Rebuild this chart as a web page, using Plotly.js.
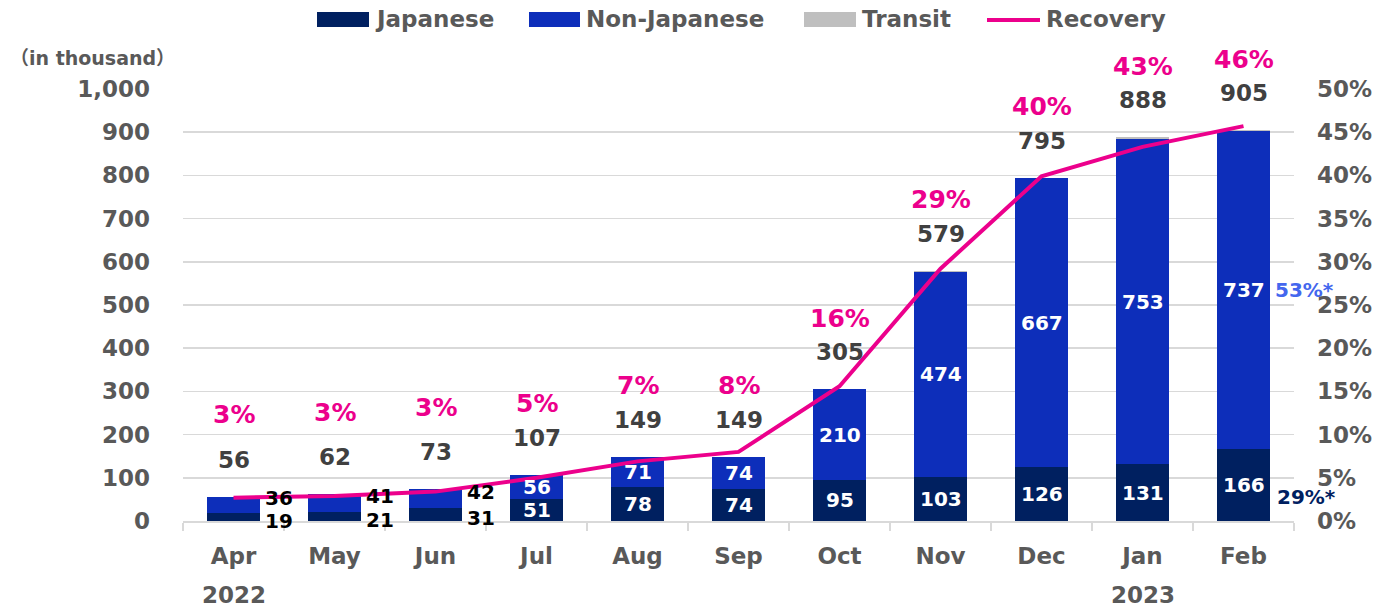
<!DOCTYPE html>
<html>
<head>
<meta charset="utf-8">
<script src="https://cdn.plot.ly/plotly-3.0.1.min.js"></script>
<style>html,body{margin:0;padding:0;background:#fff;}#chart{width:1383px;height:607px;}</style>
</head>
<body>
<div id="chart"></div>
<script>
// ---- data ----
const months = ["Apr","May","Jun","Jul","Aug","Sep","Oct","Nov","Dec","Jan","Feb"];
const japanese = [19,21,31,51,78,74,95,103,126,131,166];
const nonJapanese = [36,41,42,56,71,74,210,474,667,753,737];
const transit = [1,0,0,0,0,1,0,2,2,4,2];
const totals = [56,62,73,107,149,149,305,579,795,888,905];
const recovery = [2.7,2.9,3.4,5.0,6.9,8.0,15.6,29.2,39.9,43.3,45.7];
const yearLabels = [{month:"Apr", text:"2022"},{month:"Jan", text:"2023"}];
const febShareNonJapanese = "53%*";
const febShareJapanese = "29%*";

// ---- styling ----
const C_JP = "#002060", C_NJ = "#0D2EBA", C_TR = "#BFBFBF", C_REC = "#EC008C";
const FONT = "DejaVu Sans";
const GRAY = "#595959";

// plot area geometry (pixels) used only for paper-coordinate helpers
const L = 183, R = 89, T = 89, B = 86, W = 1383, H = 607;
const PW = W - L - R, PH = H - T - B;
const px = x => (x - L) / PW;
const py = y => (H - B - y) / PH;

const traces = [
  {type:"bar", name:"Japanese", x:months, y:japanese, marker:{color:C_JP}, hoverinfo:"skip"},
  {type:"bar", name:"Non-Japanese", x:months, y:nonJapanese, marker:{color:C_NJ}, hoverinfo:"skip"},
  {type:"bar", name:"Transit", x:months, y:transit, marker:{color:C_TR}, hoverinfo:"skip"},
  {type:"scatter", mode:"lines", name:"Recovery", x:months, y:recovery, yaxis:"y2",
   line:{color:C_REC, width:4}, hoverinfo:"skip"}
];

const ann = [];
months.forEach((m, i) => {
  ann.push({x:m, y:totals[i], xref:"x", yref:"y", yanchor:"middle", yshift:37, showarrow:false,
    text:String(totals[i]), font:{family:FONT, size:23, weight:"bold", color:"#404040"}});
  ann.push({x:m, y:totals[i], xref:"x", yref:"y", yanchor:"middle", yshift:(i < 3 ? 82 : 71), showarrow:false,
    text:Math.round(recovery[i]) + "%", font:{family:FONT, size:25, weight:"bold", color:C_REC}});
  if (i < 3) {
    ann.push({x:m, y:japanese[i]/2, xref:"x", yref:"y", xanchor:"left", yanchor:"middle", xshift:29, yshift:-4, showarrow:false,
      text:String(japanese[i]), font:{family:FONT, size:20, weight:"bold", color:"#000000"}});
    ann.push({x:m, y:japanese[i] + nonJapanese[i]/2, xref:"x", yref:"y", xanchor:"left", yanchor:"middle", xshift:29, yshift:7, showarrow:false,
      text:String(nonJapanese[i]), font:{family:FONT, size:20, weight:"bold", color:"#000000"}});
  } else {
    ann.push({x:m, y:japanese[i]/2, xref:"x", yref:"y", yanchor:"middle", showarrow:false,
      text:String(japanese[i]), font:{family:FONT, size:20, weight:"bold", color:"#FFFFFF"}});
    ann.push({x:m, y:japanese[i] + nonJapanese[i]/2, xref:"x", yref:"y", yanchor:"middle", showarrow:false,
      text:String(nonJapanese[i]), font:{family:FONT, size:20, weight:"bold", color:"#FFFFFF"}});
  }
});
const last = months.length - 1;
ann.push({x:months[last], y:japanese[last] + nonJapanese[last]/2, xref:"x", yref:"y", xanchor:"left", yanchor:"middle", xshift:29, showarrow:false,
  text:febShareNonJapanese, font:{family:FONT, size:20, weight:"bold", color:"#4467EE"}});
ann.push({x:months[last], y:japanese[last]/2, xref:"x", yref:"y", xanchor:"left", yanchor:"middle", xshift:31, yshift:-12, showarrow:false,
  text:febShareJapanese, font:{family:FONT, size:20, weight:"bold", color:C_JP}});
yearLabels.forEach(o => ann.push({x:o.month, y:py(595), xref:"x", yref:"paper", yanchor:"middle", showarrow:false,
  text:o.text, font:{family:FONT, size:23, weight:"bold", color:GRAY}}));
ann.push({x:px(8), y:py(58), xref:"paper", yref:"paper", xanchor:"left", yanchor:"middle", showarrow:false,
  text:"（in thousand）", font:{family:FONT + ", Noto Sans CJK JP", size:19, weight:"bold", color:GRAY}});

// custom legend (wide swatches as in the reference)
const legendItems = [
  {name:"Japanese", color:C_JP, x0:317, x1:369, kind:"rect"},
  {name:"Non-Japanese", color:C_NJ, x0:529, x1:580, kind:"rect"},
  {name:"Transit", color:C_TR, x0:804, x1:856, kind:"rect"},
  {name:"Recovery", color:C_REC, x0:987, x1:1040, kind:"line"}
];
const shapes = [];
legendItems.forEach(it => {
  if (it.kind === "rect") {
    shapes.push({type:"rect", xref:"paper", yref:"paper", x0:px(it.x0), x1:px(it.x1), y0:py(27), y1:py(12),
      fillcolor:it.color, line:{width:0}});
  } else {
    shapes.push({type:"line", xref:"paper", yref:"paper", x0:px(it.x0), x1:px(it.x1), y0:py(20), y1:py(20),
      line:{color:it.color, width:4}});
  }
  ann.push({x:px(it.x1 + 4), y:py(19), xref:"paper", yref:"paper", xanchor:"left", yanchor:"middle", showarrow:false,
    text:it.name, font:{family:FONT, size:23, weight:"bold", color:GRAY}});
});

const layout = {
  width:W, height:H,
  margin:{l:L, r:R, t:T, b:B, pad:0},
  paper_bgcolor:"#FFFFFF", plot_bgcolor:"#FFFFFF",
  barmode:"stack", bargap:0.475,
  showlegend:false,
  xaxis:{type:"category", range:[-0.5, months.length - 0.5], tickson:"boundaries", ticks:"outside", ticklen:8, tickwidth:1.5, tickcolor:"#D9D9D9",
    showline:true, linecolor:"#D9D9D9", linewidth:1.5, showgrid:false, fixedrange:true,
    tickfont:{family:FONT, size:23, weight:"bold", color:GRAY}, ticklabelstandoff:14},
  yaxis:{range:[0,1000], dtick:100, tickformat:",d", showgrid:true, gridcolor:"#D9D9D9", gridwidth:1.5,
    zeroline:false, ticks:"", ticklabelstandoff:32, fixedrange:true,
    tickfont:{family:FONT, size:23, weight:"bold", color:GRAY}},
  yaxis2:{overlaying:"y", side:"right", range:[0,50], dtick:5, ticksuffix:"%", showgrid:false, zeroline:false,
    ticks:"", ticklabelstandoff:22, fixedrange:true,
    tickfont:{family:FONT, size:23, weight:"bold", color:GRAY}},
  annotations:ann,
  shapes:shapes
};

Plotly.newPlot("chart", traces, layout, {displayModeBar:false, staticPlot:true});
</script>
</body>
</html>
